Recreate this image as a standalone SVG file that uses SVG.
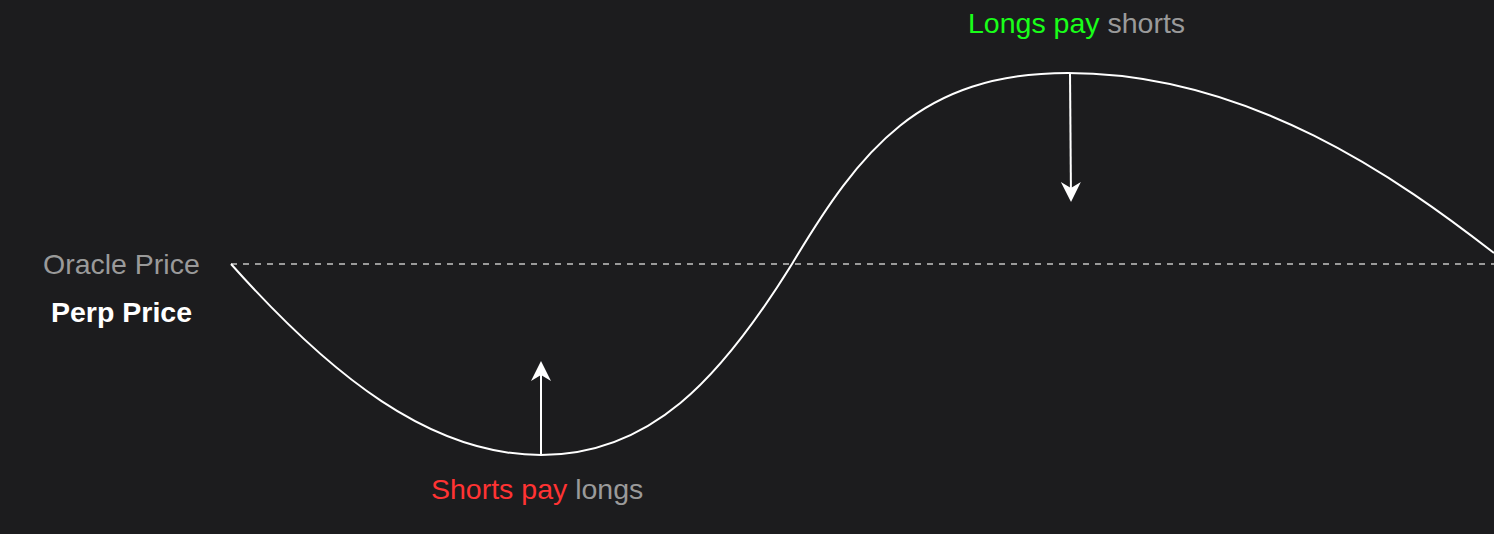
<svg xmlns="http://www.w3.org/2000/svg" width="1494" height="534" viewBox="0 0 1494 534">
<style>
text{font-family:"Liberation Sans",Arial,sans-serif;font-size:28.5px}
.gray{fill:#9a9a9a}
.line{stroke:#ffffff;stroke-width:2;fill:none}
</style>
<defs>
<marker id="ah" viewBox="0 0 10 10" refX="9" refY="5" markerWidth="21" markerHeight="20" markerUnits="userSpaceOnUse" orient="auto" overflow="visible">
<path d="M0,0 L10,5 L0,10 L3,5 Z" fill="#ffffff"/>
</marker>
</defs>
<rect width="1494" height="534" fill="#1c1c1e"/>
<g id="connectors">
<line x1="231" y1="264" x2="1494" y2="264" stroke="#9a9a9a" stroke-width="2" stroke-dasharray="6 6"/>
<path class="line" d="M231,264 C330,375 430,455 541,455 C650,455 720,380 792,264 C860,150 920,73 1068,73 C1250,73 1400,180 1494,253"/>
<path class="line" d="M541,455 L541,363" marker-end="url(#ah)"/>
<path class="line" d="M1070,73 L1071,200" marker-end="url(#ah)"/>
</g>
<g id="oracle-label"><text x="43" y="274" class="gray">Oracle Price</text></g>
<g id="perp-label"><text x="51" y="322" fill="#ffffff" font-weight="bold">Perp Price</text></g>
<g id="longs-label"><text x="968" y="33"><tspan fill="#19ff19">Longs pay</tspan><tspan class="gray"> shorts</tspan></text></g>
<g id="shorts-label"><text x="431" y="499"><tspan fill="#ff3333">Shorts pay</tspan><tspan class="gray"> longs</tspan></text></g>
</svg>
